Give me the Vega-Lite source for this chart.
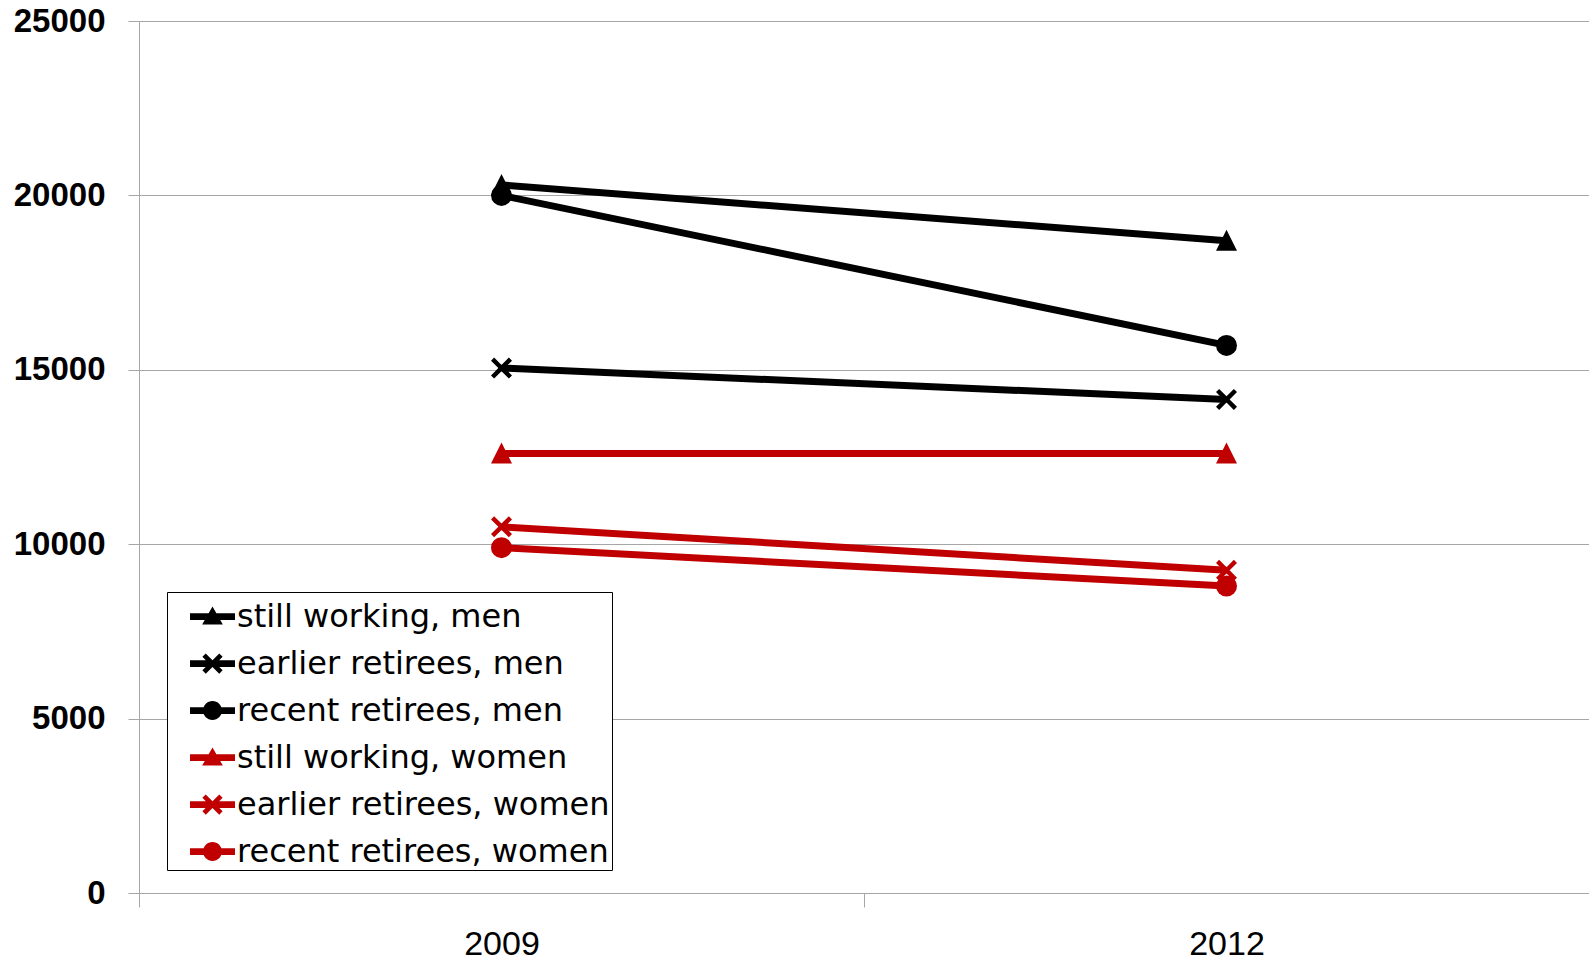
{
  "$schema": "https://vega.github.io/schema/vega-lite/v6.json",
  "width": 1450,
  "height": 872,
  "autosize": {"type": "none"},
  "padding": {"left": 139, "top": 21, "right": 0, "bottom": 70},
  "background": "white",
  "config": {"view": {"stroke": null}},
  "data": {
    "values": [
      {"series": "still working, men", "kind": "still", "sex": "men", "year": "2009", "value": 20300},
      {"series": "still working, men", "kind": "still", "sex": "men", "year": "2012", "value": 18700},
      {"series": "earlier retirees, men", "kind": "earlier", "sex": "men", "year": "2009", "value": 15050},
      {"series": "earlier retirees, men", "kind": "earlier", "sex": "men", "year": "2012", "value": 14150},
      {"series": "recent retirees, men", "kind": "recent", "sex": "men", "year": "2009", "value": 20000},
      {"series": "recent retirees, men", "kind": "recent", "sex": "men", "year": "2012", "value": 15700},
      {"series": "still working, women", "kind": "still", "sex": "women", "year": "2009", "value": 12600},
      {"series": "still working, women", "kind": "still", "sex": "women", "year": "2012", "value": 12600},
      {"series": "earlier retirees, women", "kind": "earlier", "sex": "women", "year": "2009", "value": 10500},
      {"series": "earlier retirees, women", "kind": "earlier", "sex": "women", "year": "2012", "value": 9250},
      {"series": "recent retirees, women", "kind": "recent", "sex": "women", "year": "2009", "value": 9900},
      {"series": "recent retirees, women", "kind": "recent", "sex": "women", "year": "2012", "value": 8800}
    ]
  },
  "encoding": {
    "x": {
      "field": "year", "type": "nominal",
      "scale": {"type": "band", "paddingInner": 0, "paddingOuter": 0},
      "axis": {
        "title": null, "labelAngle": 0, "grid": false, "tickBand": "extent",
        "tickSize": 14, "domainColor": "#a6a6a6", "tickColor": "#a6a6a6",
        "labelFont": "Liberation Sans", "labelFontSize": 34, "labelPadding": 20, "labelColor": "black"
      }
    },
    "y": {
      "field": "value", "type": "quantitative",
      "scale": {"domain": [0, 25000], "nice": false},
      "axis": {
        "values": [0, 5000, 10000, 15000, 20000, 25000], "format": "d", "title": null,
        "grid": true, "gridColor": "#a6a6a6", "gridWidth": 1,
        "domainColor": "#a6a6a6", "tickColor": "#a6a6a6", "tickSize": 11, "labelPadding": 23,
        "labelFont": "Liberation Sans", "labelFontWeight": "bold", "labelFontSize": 33, "labelColor": "black"
      }
    }
  },
  "layer": [
    {
      "mark": {"type": "line", "strokeWidth": 7},
      "encoding": {
        "detail": {"field": "series"},
        "color": {"condition": {"test": "datum.sex === 'women'", "value": "#C00000"}, "value": "#000000"}
      }
    },
    {
      "mark": {"type": "point", "filled": true, "opacity": 1, "size": 441, "strokeWidth": 0},
      "encoding": {
        "color": {"condition": {"test": "datum.sex === 'women'", "value": "#C00000"}, "value": "#000000"},
        "shape": {
          "condition": [
            {"test": "datum.kind === 'still'", "value": "M0,-1.05L1,0.95L-1,0.95Z"},
            {"test": "datum.kind === 'earlier'", "value": "M-1,-0.7L-0.7,-1L0,-0.3L0.7,-1L1,-0.7L0.3,0L1,0.7L0.7,1L0,0.3L-0.7,1L-1,0.7L-0.3,0Z"}
          ],
          "value": "circle"
        }
      }
    },
    {
      "mark": {"type": "point", "filled": true, "opacity": 0, "size": 441},
      "encoding": {
        "color": {
          "field": "series", "type": "nominal",
          "scale": {
            "domain": ["still working, men", "earlier retirees, men", "recent retirees, men", "still working, women", "earlier retirees, women", "recent retirees, women"],
            "range": ["#000000", "#000000", "#000000", "#C00000", "#C00000", "#C00000"]
          },
          "legend": {
            "title": null, "orient": "none", "legendX": 28, "legendY": 571,
            "strokeColor": "black", "fillColor": "white", "padding": 2, "symbolOffset": 21,
            "symbolSize": 2025, "symbolStrokeWidth": 0, "symbolOpacity": 1,
            "labelFont": "DejaVu Sans", "labelFontSize": 32, "labelColor": "black",
            "labelOffset": 2, "rowPadding": 8, "labelLimit": 0,
            "labelExpr": "datum.label + '\u00a0\u00a0\u00a0'"
          }
        },
        "shape": {
          "field": "series", "type": "nominal",
          "scale": {
            "domain": ["still working, men", "earlier retirees, men", "recent retirees, men", "still working, women", "earlier retirees, women", "recent retirees, women"],
            "range": [
              "M-1,-0.15H1V0.15H-1Z M0,-0.45L0.46,0.36L-0.46,0.36Z",
              "M-1,-0.15H1V0.15H-1Z M-0.45,-0.3L-0.3,-0.45L0,-0.15L0.3,-0.45L0.45,-0.3L0.15,0L0.45,0.3L0.3,0.45L0,0.15L-0.3,0.45L-0.45,0.3L-0.15,0Z",
              "M-1,-0.15H1V0.15H-1Z M-0.42,0A0.42,0.42 0 1,1 0.42,0A0.42,0.42 0 1,1 -0.42,0Z",
              "M-1,-0.15H1V0.15H-1Z M0,-0.45L0.46,0.36L-0.46,0.36Z",
              "M-1,-0.15H1V0.15H-1Z M-0.45,-0.3L-0.3,-0.45L0,-0.15L0.3,-0.45L0.45,-0.3L0.15,0L0.45,0.3L0.3,0.45L0,0.15L-0.3,0.45L-0.45,0.3L-0.15,0Z",
              "M-1,-0.15H1V0.15H-1Z M-0.42,0A0.42,0.42 0 1,1 0.42,0A0.42,0.42 0 1,1 -0.42,0Z"
            ]
          },
          "legend": {
            "title": null, "orient": "none", "legendX": 28, "legendY": 571,
            "strokeColor": "black", "fillColor": "white", "padding": 2, "symbolOffset": 21,
            "symbolSize": 2025, "symbolStrokeWidth": 0, "symbolOpacity": 1,
            "labelFont": "DejaVu Sans", "labelFontSize": 32, "labelColor": "black",
            "labelOffset": 2, "rowPadding": 8, "labelLimit": 0,
            "labelExpr": "datum.label + '\u00a0\u00a0\u00a0'"
          }
        }
      }
    }
  ]
}
